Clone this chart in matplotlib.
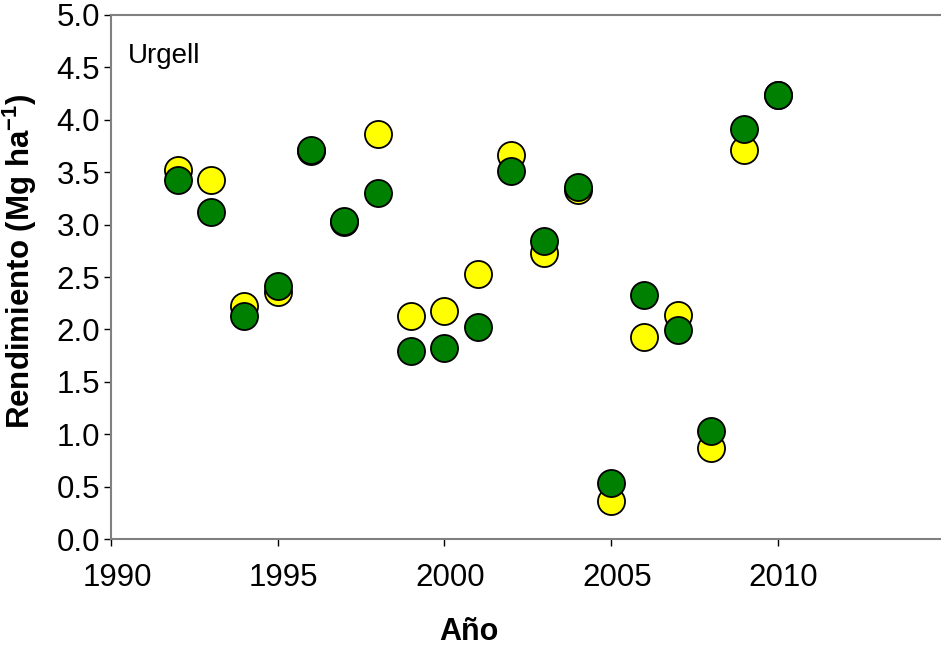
import matplotlib.pyplot as plt
from matplotlib.transforms import ScaledTranslation

plt.rcParams['font.family'] = ['Liberation Sans', 'DejaVu Sans']
plt.rcParams['mathtext.fontset'] = 'custom'
plt.rcParams['mathtext.rm'] = 'Liberation Sans'
plt.rcParams['mathtext.bf'] = 'Liberation Sans:bold'

# Yields per year (Mg/ha)
years = [1992, 1993, 1994, 1995, 1996, 1997, 1998, 1999, 2000, 2001,
         2002, 2003, 2004, 2005, 2006, 2007, 2008, 2009, 2010]
yield_yellow = [3.52, 3.43, 2.22, 2.36, 3.70, 3.02, 3.86, 2.13, 2.18, 2.53,
                3.66, 2.73, 3.33, 0.36, 1.93, 2.14, 0.87, 3.71, 4.24]
yield_green = [3.43, 3.12, 2.13, 2.41, 3.71, 3.03, 3.30, 1.79, 1.82, 2.02,
               3.51, 2.84, 3.36, 0.54, 2.33, 1.99, 1.03, 3.91, 4.24]

x_ticks = [1990, 1995, 2000, 2005, 2010]
y_ticks = [0.0, 0.5, 1.0, 1.5, 2.0, 2.5, 3.0, 3.5, 4.0, 4.5, 5.0]

fig = plt.figure(figsize=(9.41, 6.48), dpi=100)
ax = fig.add_axes([0.118, 0.168, 0.8855, 0.809])

ax.plot(years, yield_yellow, 'o', ls='none', color='#FFFF00', markersize=19.5,
        markeredgecolor='black', markeredgewidth=1.3, zorder=3)
ax.plot(years, yield_green, 'o', ls='none', color='#008000', markersize=19.5,
        markeredgecolor='black', markeredgewidth=1.3, zorder=4)

ax.set_xlim(1990, 2015)
ax.set_ylim(0, 5)
ax.set_xticks(x_ticks)
ax.set_yticks(y_ticks)
ax.set_yticklabels([f'{v:.1f}' for v in y_ticks])

for side in ['left', 'bottom', 'top']:
    ax.spines[side].set_color('#808080')
    ax.spines[side].set_linewidth(1.5)
ax.spines['right'].set_visible(False)

ax.tick_params(axis='both', direction='out', length=5, width=1, color='black',
               labelsize=22.5)
ax.tick_params(axis='x', pad=12)
ax.tick_params(axis='y', pad=3)

# year labels sit a little to the right of their ticks
shift = ScaledTranslation(0.06, 0, fig.dpi_scale_trans)
for lbl in ax.get_xticklabels():
    lbl.set_transform(lbl.get_transform() + shift)

ax.set_xlabel('Año', fontsize=22, fontweight='bold')
ax.xaxis.set_label_coords(0.43, -0.148)
ax.set_ylabel(r'Rendimiento (Mg ha$^{\mathbf{-1}}$)', fontsize=22.5, fontweight='bold')
ax.yaxis.set_label_coords(-0.087, 0.53)

ax.text(0.0204, 0.908, 'Urgell', transform=ax.transAxes, fontsize=20,
        va='baseline', ha='left')

fig.savefig('out.png', dpi=100)
